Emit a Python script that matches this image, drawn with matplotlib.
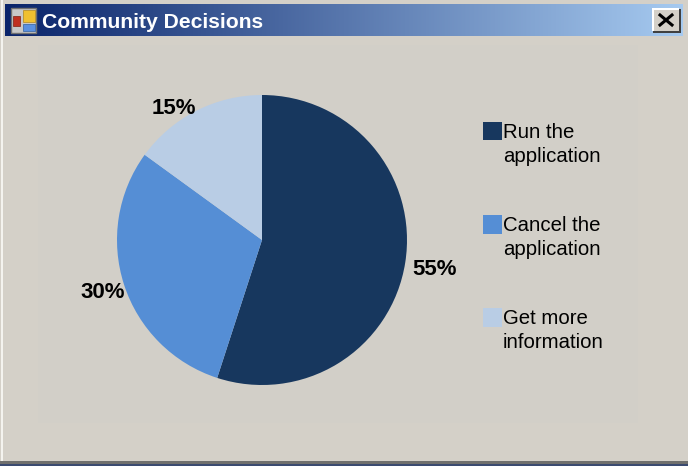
import numpy as np
import matplotlib
matplotlib.use('Agg')
import matplotlib.pyplot as plt
from matplotlib.patches import Rectangle
from matplotlib.colors import LinearSegmentedColormap

title = 'Community Decisions'
labels = ['Run the\napplication', 'Cancel the\napplication', 'Get more\ninformation']
values = [55, 30, 15]
colors = ['#17375e', '#558ed5', '#b9cde5']
pct_pos = [(1.19, -0.205), (-1.10, -0.365), (-0.61, 0.905)]

W, H = 688, 466
plt.rcParams['font.family'] = ['Liberation Sans', 'DejaVu Sans']

fig = plt.figure(figsize=(W / 100, H / 100), dpi=100, facecolor='#d4d0c8')

# window chrome, in pixels
bg = fig.add_axes([0, 0, 1, 1])
bg.set_xlim(0, W)
bg.set_ylim(H, 0)
bg.axis('off')
bg.add_patch(Rectangle((1, 0), 1.5, H, color='#f4f3ef', lw=0))
bg.add_patch(Rectangle((38, 45), 600, 378, color='#d2cfc8', lw=0))
bg.add_patch(Rectangle((0, 461), W, 3, color='#6f6f6d', lw=0))
bg.add_patch(Rectangle((0, 464), W, 2, color='#3a4a70', lw=0))

cm = LinearSegmentedColormap.from_list('bar', ['#0a246a', '#a6caf0'])
bg.imshow(np.linspace(0, 1, 256).reshape(1, -1), cmap=cm, aspect='auto',
          extent=(5, 683, 36, 4), zorder=1)
bg.set_xlim(0, W)
bg.set_ylim(H, 0)
bg.text(42, 22, title, color='white', fontsize=15.2, fontweight='bold',
        va='center', ha='left', zorder=3)

# title bar icon
bg.add_patch(Rectangle((11, 8), 25, 25, fc='#c8c8c8', ec='#707070', lw=1, zorder=2))
bg.add_patch(Rectangle((23, 10), 12, 12, fc='#f0c030', ec='#b08820', lw=0.5, zorder=3))
bg.add_patch(Rectangle((13, 16), 7, 10, fc='#c03020', ec='#802010', lw=0.5, zorder=3))
bg.add_patch(Rectangle((23, 24), 12, 7, fc='#5a90e0', ec='#3060a0', lw=0.5, zorder=3))

# close button, raised look
bg.add_patch(Rectangle((653, 9), 28, 24, fc='#404040', lw=0, zorder=2))
bg.add_patch(Rectangle((652, 8), 27, 23, fc='#ffffff', lw=0, zorder=2))
bg.add_patch(Rectangle((653.5, 9.5), 25.5, 21.5, fc='#d4d0c8', lw=0, zorder=2))
bg.plot([660, 672], [15, 25], color='black', lw=2.2, zorder=3)
bg.plot([660, 672], [25, 15], color='black', lw=2.2, zorder=3)

# pie
ax = fig.add_axes([117 / W, 1 - 385 / H, 290 / W, 290 / H])
wedges, texts, autotexts = ax.pie(values, colors=colors, startangle=90, counterclock=False,
                                  radius=1, autopct='%d%%', wedgeprops={'linewidth': 0})
for t, p in zip(autotexts, pct_pos):
    t.set_position(p)
    t.set_fontsize(16)
    t.set_fontweight('bold')
    t.set_color('black')
    t.set_clip_on(False)
ax.set_xlim(-1, 1)
ax.set_ylim(-1, 1)

leg = fig.legend(wedges, labels, loc='upper left', bbox_to_anchor=(483 / W, 1 - 123 / H),
                 frameon=False, fontsize=14.7, labelspacing=2.45, handlelength=0.93,
                 handleheight=1.02, handletextpad=0.05, borderpad=0, borderaxespad=0,
                 alignment='left')
for t in leg.get_texts():
    t.set_linespacing(1.34)
# squares sit level with the first text line
for h in leg.legend_handles:
    h.set_y(h.get_y() + 10)

fig.savefig('out.png', dpi=100, facecolor=fig.get_facecolor())
